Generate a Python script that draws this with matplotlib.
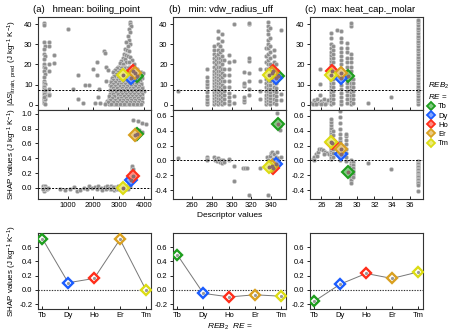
import numpy as np
import matplotlib
matplotlib.use('Agg')
import matplotlib.pyplot as plt
import matplotlib.colors as mcolors
from matplotlib.lines import Line2D

plt.rcParams['font.family'] = ['Liberation Sans Narrow', 'Liberation Sans', 'DejaVu Sans']
plt.rcParams['mathtext.fontset'] = 'custom'
plt.rcParams['mathtext.rm'] = 'Liberation Sans'
plt.rcParams['mathtext.it'] = 'Liberation Sans:italic'
plt.rcParams['font.size'] = 5.5

# rare earths picked out
re_names = ['Tb', 'Dy', 'Ho', 'Er', 'Tm']
re_colors = ['#1e9e1e', '#1a5cff', '#ff2d1a', '#d9a020', '#dcdc14']
re_ds = [14.5, 13.3, 16.6, 15.7, 14.8]
desc_a = [3720, 3470, 3560, 3640, 3145]
desc_b = [346.5, 344.5, 342.0, 340.5, 337.5]
desc_c = [29.0, 28.18, 27.17, 28.2, 27.05]
shap_a = [0.72, 0.10, 0.16, 0.71, 0.0]
shap_b = [0.49, -0.05, -0.10, -0.07, -0.09]
shap_c = [-0.16, 0.08, 0.23, 0.16, 0.25]
ds_mean = 7.3

# grey samples, panel (a)
top_a_pts = [
    (80, 40.5), (90, 39.5), (70, 31), (100, 29), (85, 27.5), (75, 25), (95, 24), (80, 22.5),
    (90, 20), (70, 19), (100, 18.5), (85, 17), (95, 15.5), (75, 14), (90, 12), (80, 11),
    (100, 10.3), (70, 9.5), (90, 8.7), (85, 7.9), (75, 7), (95, 6), (80, 5.2), (100, 4.4),
    (70, 3.6), (90, 2.8), (85, 2), (75, 1.2), (95, 0.5), (120, 7.5), (110, 3), (60, 4),
    (270, 31), (270, 29), (270, 20), (270, 17), (270, 8), (270, 5.5), (270, 4.7),
    (460, 24.7), (460, 20.5),
    (1025, 37.7), (1415, 15), (1220, 8), (1415, 3), (1610, 1), (1680, 10), (1850, 10),
    (1980, 18), (2070, 1), (2140, 21.3), (2160, 15), (2175, 3.7), (2240, 8), (2270, 0.8),
    (2420, 26.7), (2460, 25.5), (2500, 18.8), (2500, 11.7), (2580, 17.2),
    (3440, 41), (3420, 40), (3460, 39), (3400, 37.5), (3430, 36), (3350, 34), (3380, 32),
    (3300, 31), (3420, 30), (3360, 29), (3250, 27.5), (3320, 27), (3400, 26.5), (3200, 25),
    (3280, 24.5), (3350, 24), (3450, 23.5), (3150, 23), (3230, 22.5), (3500, 22), (3100, 21.5),
    (3300, 21), (3400, 21), (3050, 20.5), (3180, 20), (3600, 20), (3850, 16.5), (3950, 16),
    (3720, 18),
    (2950, 19), (3120, 19), (3260, 19), (3380, 19), (3520, 19),
    (2880, 18), (3020, 18), (3200, 18), (3330, 18), (3450, 18), (3680, 18),
    (2800, 17), (2990, 17), (3150, 17), (3290, 17), (3420, 17), (3560, 17),
    (2920, 16), (3080, 16), (3230, 16), (3370, 16), (3500, 16), (3800, 16),
    (2850, 15), (3000, 15), (3180, 15), (3310, 15), (3440, 15), (3600, 15), (3880, 15),
    (2760, 14), (2960, 14), (3100, 14), (3260, 14), (3400, 14), (3540, 14), (3700, 14),
    (2900, 13), (3040, 13), (3200, 13), (3340, 13), (3480, 13), (3640, 13), (3820, 13),
    (2700, 12), (2830, 12), (2990, 12), (3140, 12), (3290, 12), (3430, 12), (3570, 12), (3760, 12),
    (2780, 11), (2930, 11), (3080, 11), (3230, 11), (3380, 11), (3520, 11), (3680, 11), (3860, 11),
    (2650, 10), (2870, 10), (3020, 10), (3170, 10), (3320, 10), (3460, 10), (3610, 10), (3780, 10),
    (2740, 9), (2960, 9), (3110, 9), (3260, 9), (3410, 9), (3550, 9), (3720, 9), (3900, 9),
    (2820, 8), (3040, 8), (3190, 8), (3340, 8), (3490, 8), (3650, 8), (3830, 8),
    (2700, 7), (2900, 7), (3080, 7), (3240, 7), (3390, 7), (3540, 7), (3700, 7), (3880, 7), (4000, 7),
    (2780, 6), (2990, 6), (3150, 6), (3300, 6), (3450, 6), (3600, 6), (3760, 6),
    (2850, 5), (3050, 5), (3210, 5), (3360, 5), (3510, 5), (3670, 5), (3840, 5),
    (2700, 4), (2940, 4), (3120, 4), (3280, 4), (3430, 4), (3580, 4), (3740, 4), (3900, 4),
    (2620, 3), (2880, 3), (3020, 3), (3190, 3), (3350, 3), (3500, 3), (3660, 3), (3820, 3),
    (2550, 2), (2760, 2), (2970, 2), (3100, 2), (3260, 2), (3420, 2), (3570, 2), (3730, 2), (3880, 2),
    (2500, 1), (2680, 1), (2850, 1), (3040, 1), (3200, 1), (3360, 1), (3510, 1), (3680, 1), (3840, 1),
    (2600, 0.3), (2800, 0.3), (2950, 0.3), (3130, 0.3), (3300, 0.3), (3450, 0.3), (3620, 0.3), (3780, 0.3),
    (2920, 18.5), (3090, 18.5), (3240, 18.5), (3360, 18.5), (3480, 18.5), (3620, 18.5),
    (2850, 17.5), (3060, 17.5), (3180, 17.5), (3310, 17.5), (3460, 17.5), (3590, 17.5),
    (2780, 16.5), (2960, 16.5), (3120, 16.5), (3270, 16.5), (3400, 16.5), (3540, 16.5), (3700, 16.5),
    (2900, 15.5), (3050, 15.5), (3220, 15.5), (3350, 15.5), (3490, 15.5), (3650, 15.5), (3760, 15.5),
    (2820, 14.5), (3010, 14.5), (3150, 14.5), (3300, 14.5), (3460, 14.5), (3580, 14.5), (3800, 14.5),
    (2730, 13.5), (2950, 13.5), (3090, 13.5), (3250, 13.5), (3390, 13.5), (3530, 13.5), (3700, 13.5), (3900, 13.5),
    (2780, 12.5), (2920, 12.5), (3060, 12.5), (3210, 12.5), (3360, 12.5), (3500, 12.5), (3660, 12.5), (3840, 12.5),
    (2690, 11.5), (2860, 11.5), (3010, 11.5), (3160, 11.5), (3310, 11.5), (3450, 11.5), (3600, 11.5), (3770, 11.5),
    (2760, 10.5), (2950, 10.5), (3100, 10.5), (3250, 10.5), (3390, 10.5), (3540, 10.5), (3690, 10.5), (3870, 10.5),
    (2690, 9.5), (2850, 9.5), (3030, 9.5), (3180, 9.5), (3340, 9.5), (3480, 9.5), (3630, 9.5), (3800, 9.5),
    (2760, 8.5), (2920, 8.5), (3110, 8.5), (3270, 8.5), (3420, 8.5), (3570, 8.5), (3740, 8.5), (3920, 8.5),
    (2640, 7.5), (2830, 7.5), (2990, 7.5), (3160, 7.5), (3310, 7.5), (3470, 7.5), (3620, 7.5), (3790, 7.5),
    (2720, 6.5), (2900, 6.5), (3070, 6.5), (3230, 6.5), (3380, 6.5), (3530, 6.5), (3690, 6.5), (3860, 6.5),
    (2650, 5.5), (2790, 5.5), (2970, 5.5), (3130, 5.5), (3290, 5.5), (3440, 5.5), (3590, 5.5), (3750, 5.5), (3920, 5.5),
    (2600, 4.5), (2820, 4.5), (3030, 4.5), (3200, 4.5), (3350, 4.5), (3510, 4.5), (3660, 4.5), (3820, 4.5),
    (2750, 3.5), (2950, 3.5), (3100, 3.5), (3270, 3.5), (3420, 3.5), (3580, 3.5), (3740, 3.5), (3890, 3.5),
    (2650, 2.5), (2860, 2.5), (3040, 2.5), (3180, 2.5), (3340, 2.5), (3490, 2.5), (3650, 2.5), (3800, 2.5),
    (2590, 1.5), (2790, 1.5), (2930, 1.5), (3120, 1.5), (3280, 1.5), (3440, 1.5), (3600, 1.5), (3760, 1.5), (3920, 1.5),
    (2450, 0.7), (2700, 0.7), (2890, 0.7), (3060, 0.7), (3220, 0.7), (3380, 0.7), (3540, 0.7), (3700, 0.7), (3860, 0.7),
]
mid_a_pts = [
    (30, 0.02), (50, -0.01), (70, 0.0), (90, -0.02), (110, 0.01), (130, -0.03), (60, -0.04),
    (100, 0.03), (80, 0.0), (120, -0.01), (140, 0.0), (40, -0.02), (200, -0.02), (250, 0.0),
    (700, -0.01), (900, -0.03), (1100, -0.02), (1250, 0.01), (1350, -0.04), (1500, -0.03),
    (1650, 0.0), (1750, -0.02), (1850, 0.02), (1950, 0.0), (2050, 0.01), (2150, -0.01),
    (2200, 0.02), (2300, 0.0), (2350, -0.03), (2450, 0.01), (2500, -0.02), (2550, 0.02),
    (2650, -0.01), (2700, 0.02), (2750, 0.0), (2800, -0.03), (2850, 0.01), (2900, -0.01),
    (2950, 0.02), (3000, 0.0), (3050, -0.02), (3100, 0.01), (3200, -0.01), (3250, 0.02),
    (3300, 0.0), (3350, 0.03), (3380, 0.06), (3420, 0.1), (3450, 0.13), (3480, 0.17),
    (3470, 0.22), (3500, 0.27), (3520, 0.3), (3540, 0.25), (3560, 0.2), (3580, 0.12),
    (3400, 0.04), (3450, 0.05),
    (2600, 0.0), (2680, -0.02), (2780, 0.01), (2880, -0.02), (2980, -0.01), (3080, 0.02),
    (3150, -0.02), (3230, 0.0), (3280, -0.02), (3320, 0.02), (3360, -0.01), (3430, 0.02),
    (3570, 0.92), (3760, 0.9), (3920, 0.88), (4050, 0.86), (3660, 0.8), (3790, 0.78),
    (3900, 0.76), (3580, 0.72), (3700, 0.69), (3650, 0.66),
]

# grey samples, panel (b): descriptor value -> |dS| values
top_b_cols = {
    246: [7.0],
    275: [0.5, 1.3, 3.0, 4.6, 6.2, 8.7, 10.3, 12.0, 13.6, 17.7],
    282: [0.5, 2, 3.5, 5, 6.5, 8, 9.5, 11, 12.5, 14, 15.5, 17, 19, 21, 23, 25, 27, 29],
    284: [1, 2.5, 4, 5.5, 7, 8.5, 10, 11.5, 13, 14.5, 16, 18, 20, 22, 24],
    286: [0.5, 2, 3.5, 5, 6.5, 8, 9.5, 11, 12.5, 14, 15.5, 17, 19, 21, 23, 25, 27, 30, 33, 36.5],
    288: [1, 3, 5, 7, 9, 11, 13, 15, 17, 19, 21, 23, 26, 29],
    290: [0.5, 2, 4, 6, 8, 10, 12, 14, 16, 18, 20, 22, 24, 27, 31.5, 35],
    292: [1, 3, 5, 7, 9, 12, 15, 18, 22],
    297: [0.5, 2, 4, 6, 9, 12, 15, 18, 21, 24.5],
    302: [1, 4.6, 21.8, 40],
    313: [1.3, 2.5, 3.8, 9.5, 10.3, 11, 16.5],
    318: [5, 8, 12, 16, 21.8, 23.4, 39.8, 40.6],
    329: [3, 7, 12, 17.7],
    335: [0.5, 2, 3.5, 5, 7, 9, 11, 13, 15, 18, 21, 24, 28],
    337: [1, 2.5, 4, 5.5, 7, 8.5, 10, 12, 14, 16, 18, 20, 22, 25, 28, 30, 32, 35, 37, 39, 41],
    339: [0.5, 2, 3.5, 5, 6.5, 8, 10, 12, 14, 17, 20, 23, 26, 29, 33, 38],
    343: [1, 3, 5, 7, 9, 11, 13, 15, 17, 19, 21, 24, 27],
    345: [0.5, 2.5, 4.5, 6.5, 8.5, 11, 14, 17, 20],
    350: [2.5, 5.4, 37],
}
mid_b_pts = [
    (245.5, 0.03), (275, 0.05), (275, 0.02), (275, 0.0), (282, 0.04), (283, 0.01), (284, 0.02),
    (285, -0.01), (286, 0.03), (287, 0.0), (288, -0.02), (289, 0.01), (290, -0.03), (291, 0.0),
    (292, -0.02), (297, 0.0), (297, 0.02), (302, -0.07), (302, -0.28), (312, -0.1), (314, -0.1),
    (316, -0.1), (318, -0.46), (329, -0.1), (337, -0.46), (336, 0.04), (337, 0.0), (338, -0.02),
    (339, 0.06), (340, 0.1), (341, 0.12), (342, 0.02), (343, 0.08), (344, -0.01), (345, 0.05),
    (346, 0.11), (347, 0.03), (350, 0.04), (346, 0.64), (349, 0.46), (349, 0.41), (344, 0.0),
]

# grey samples, panel (c)
top_c_pts = [
    (24.9, 1), (25.1, 2.5), (25.3, 1.5), (25.5, 3), (25.7, 0.8), (25.9, 2), (26.1, 1.2),
    (26.3, 2.8), (26.5, 1), (26.7, 2.2), (25.0, 0.3), (25.4, 0.5), (26.0, 0.4), (26.4, 0.3),
    (31.3, 0.8), (33.9, 4), (27.8, 36.9),
]
top_c_cols = {
    25.85: [4.9, 10.6, 17.7],
    27.05: [0.5, 2, 3.5, 5, 6.5, 8, 9.5, 11, 12.5, 14, 15.5, 17, 18.5, 20, 21.5, 23, 24.5, 26, 28, 30, 33, 35.5],
    27.3: [1, 3, 5, 7, 9, 11, 13, 15, 17, 19, 21, 23, 25, 27, 29],
    28.2: [0.5, 2, 4, 6, 8, 10, 12, 14, 16, 18, 20, 22, 24, 26, 28, 31, 33, 36.5],
    28.85: [1, 3, 5, 7, 9, 11, 13, 15, 17, 19, 21, 23, 26, 28.4, 30.8],
    29.35: [0.5, 2, 3.5, 5, 6.5, 8, 9.5, 11, 13, 15, 17, 19, 21, 23, 25, 39, 40.6],
    29.6: [1, 3, 5, 7, 9, 11, 13],
    36.9: [0.5, 1.8, 3.1, 4.4, 5.7, 7, 8.3, 9.6, 10.9, 12.2, 13.5, 14.8, 16.1, 17.4, 18.7, 20,
           21.3, 22.6, 23.9, 25.2, 26.5, 27.8, 29.1, 30.4, 31.7, 33, 34.3, 35.6, 36.9, 38.2,
           39.5, 40.8, 41.8],
}
mid_c_pts = [
    (25.0, 0.02), (25.2, 0.05), (25.35, 0.08), (25.55, 0.12), (25.75, 0.15), (26.0, 0.16),
    (26.2, 0.14), (26.4, 0.12), (26.6, 0.1), (26.8, 0.08), (25.1, 0.0), (25.5, 0.06), (26.3, 0.09),
    (31.3, -0.04), (33.9, -0.11),
]
mid_c_cols = {
    27.1: [0.02, 0.05, 0.08, 0.11, 0.14, 0.17, 0.2, 0.23, 0.26, 0.29, 0.32, 0.35, 0.38, 0.41, 0.44, 0.48, 0.52, 0.56],
    27.3: [0.04, 0.1, 0.16, 0.22, 0.28, 0.34, 0.4],
    28.1: [0.0, 0.03, 0.06, 0.1, 0.14, 0.18, 0.22, 0.26, 0.3, 0.36, 0.42, 0.5, 0.58, 0.66],
    28.8: [-0.01, 0.04, 0.1, 0.16, 0.22, 0.28, 0.33, 0.36],
    29.35: [0.0, -0.03, -0.06, -0.09, -0.12, -0.15, -0.18, -0.21, -0.24, -0.27, -0.3],
    29.6: [-0.02, -0.06, -0.1, -0.14, -0.18, -0.22],
    36.9: [-0.01, -0.03, -0.05, -0.07, -0.09, -0.11, -0.13, -0.15, -0.17, -0.19, -0.21, -0.23,
           -0.25, -0.27, -0.29, -0.31, -0.33, -0.41],
}


def cols_to_xy(cols, extra=()):
    xs = [p[0] for p in extra]
    ys = [p[1] for p in extra]
    for x, yl in cols.items():
        xs += [x] * len(yl)
        ys += list(yl)
    return np.array(xs), np.array(ys)


def grey(ax, x, y):
    ax.scatter(x, y, s=9, c='#8e8e8e', edgecolors='#d4d4d4', linewidths=0.4, zorder=2)


def light(c, f=0.45):
    r, g, b = mcolors.to_rgb(c)
    return (r + (1 - r) * f, g + (1 - g) * f, b + (1 - b) * f)


def re_marks(ax, xs, ys):
    for x, y, c in zip(xs, ys, re_colors):
        ax.plot(x, y, 'D', ms=6, mfc=light(c), mec=c, mew=1.5, zorder=4)
        ax.plot(x, y, 'o', ms=1.8, color='#8a6a6a', zorder=5)


def style(ax):
    for s in ax.spines.values():
        s.set_linewidth(0.8)
        s.set_color('#333333')
    ax.tick_params(axis='y', direction='out', length=2.5, width=0.6, pad=1.5, labelsize=5.5)
    ax.tick_params(axis='x', direction='in', length=2.5, width=0.6, pad=2, labelsize=5.5)


fig = plt.figure(figsize=(4.69, 3.33), dpi=100)
lefts = [0.081, 0.369, 0.661]
w = 0.241
rows = [(0.6697, 0.2793), (0.4024, 0.2673), (0.0721, 0.2282)]
top_axes = [fig.add_axes([l, rows[0][0], w, rows[0][1]]) for l in lefts]
mid_axes = [fig.add_axes([l, rows[1][0], w, rows[1][1]]) for l in lefts]
bot_axes = [fig.add_axes([l, rows[2][0], w, rows[2][1]]) for l in lefts]

ta = np.array(top_a_pts)
ma = np.array(mid_a_pts)
tb = cols_to_xy(top_b_cols)
mb = np.array(mid_b_pts)
tc = cols_to_xy(top_c_cols, top_c_pts)
mc_ = cols_to_xy(mid_c_cols, mid_c_pts)

grey(top_axes[0], ta[:, 0], ta[:, 1])
grey(mid_axes[0], ma[:, 0], ma[:, 1])
grey(top_axes[1], tb[0], tb[1])
grey(mid_axes[1], mb[:, 0], mb[:, 1])
grey(top_axes[2], tc[0], tc[1])
grey(mid_axes[2], mc_[0], mc_[1])

descs = [desc_a, desc_b, desc_c]
shaps = [shap_a, shap_b, shap_c]
xlims = [(-160, 4260), (241, 355), (24.7, 37.5)]
xticks = [[1000, 2000, 3000, 4000], [260, 280, 300, 320, 340], [26, 28, 30, 32, 34, 36]]
titles = ['(a)   hmean: boiling_point', '(b)   min: vdw_radius_uff', '(c)  max: heat_cap._molar']
mid_ylims = [(-0.15, 1.05), (-0.52, 0.68), (-0.52, 0.68)]
mid_yticks = [[0.0, 0.2, 0.4, 0.6, 0.8, 1.0], [-0.4, -0.2, 0.0, 0.2, 0.4, 0.6], [-0.4, -0.2, 0.0, 0.2, 0.4, 0.6]]

for i in range(3):
    at, am, ab = top_axes[i], mid_axes[i], bot_axes[i]
    re_marks(at, descs[i], re_ds)
    re_marks(am, descs[i], shaps[i])
    at.axhline(ds_mean, color='black', ls=(0, (2, 1.5)), lw=0.7, zorder=3)
    am.axhline(0, color='black', ls=(0, (2, 1.5)), lw=0.7, zorder=3)
    for ax in (at, am):
        ax.set_xlim(*xlims[i])
        ax.set_xticks(xticks[i])
        style(ax)
    at.set_xticklabels([])
    at.set_ylim(-2.5, 43.5)
    at.set_yticks([0, 10, 20, 30, 40])
    am.set_ylim(*mid_ylims[i])
    am.set_yticks(mid_yticks[i])
    am.set_yticklabels(['%.1f' % v for v in mid_yticks[i]])
    at.text(-0.04, 1.03, titles[i], transform=at.transAxes, fontsize=6.8, ha='left', va='bottom')

    # bottom: SHAP values of the five rare earths
    pos = np.arange(len(re_names))
    ab.plot(pos, shaps[i], '-', color='#777777', lw=0.7, zorder=2)
    ab.axhline(0, color='#333333', ls=(0, (1.2, 1.2)), lw=0.8, zorder=1)
    for p, v, c in zip(pos, shaps[i], re_colors):
        ab.plot(p, v, 'D', ms=5.5, mfc='white', mec=c, mew=1.7, zorder=3)
        ab.plot(p, v, 'o', ms=1.3, color='#999999', zorder=4)
    ab.set_xlim(-0.17, 4.2)
    ab.set_xticks(pos)
    ab.set_xticklabels(re_names)
    ab.set_ylim(-0.27, 0.8)
    ab.set_yticks([-0.2, 0.0, 0.2, 0.4, 0.6])
    ab.set_yticklabels(['-0.2', '0.0', '0.2', '0.4', '0.6'])
    style(ab)

# y labels placed in figure coordinates
ylab_x = 12 / 469
fig.text(ylab_x, rows[0][0] + rows[0][1] / 2,
         r'$|\Delta S|_{\mathrm{train},\ \mathrm{pred}}$ (J kg$^{-1}$ K$^{-1}$)',
         rotation=90, ha='center', va='center', fontsize=5.8)
for r in rows[1:]:
    fig.text(ylab_x, r[0] + r[1] / 2, r'SHAP values (J kg$^{-1}$ K$^{-1}$)',
             rotation=90, ha='center', va='center', fontsize=5.8)
mid_axes[1].set_xlabel('Descriptor values', fontsize=6, labelpad=2)
bot_axes[1].set_xlabel(r'$REB_2$  $RE$ =', fontsize=6, labelpad=2)

handles = [Line2D([], [], ls='none', marker='D', ms=4.5, mfc=light(c), mec=c, mew=1.3) for c in re_colors]
leg = fig.legend(handles, re_names, loc='upper left', bbox_to_anchor=(0.905, 0.77),
                 frameon=False, fontsize=5.5, title='$REB_2$\n$RE$ =', title_fontsize=5.8,
                 handlelength=0.8, handletextpad=0.5, labelspacing=0.25, borderpad=0,
                 alignment='left')

fig.savefig('out.png', dpi=100)
